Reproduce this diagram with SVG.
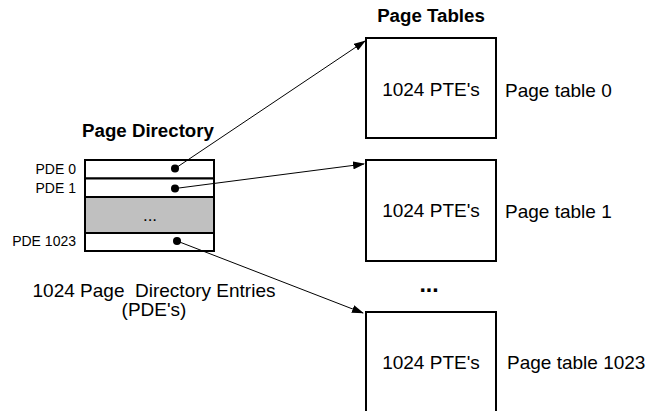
<svg xmlns="http://www.w3.org/2000/svg" width="646" height="411" viewBox="0 0 646 411">
<style>
text{font-family:"Liberation Sans",Arial,sans-serif;fill:#000;white-space:pre}
.b{font-weight:bold;font-size:18.7px}
.r{font-size:19px}
.s{font-size:14px}
.box{fill:#fff;stroke:#000;stroke-width:2}
.conn{stroke:#000;stroke-width:1;fill:none}
</style>
<defs>
<marker id="ah" markerWidth="12" markerHeight="8" refX="11" refY="4" orient="auto" markerUnits="userSpaceOnUse">
<path d="M0,0 L12,4 L0,8 Z" fill="#000"/>
</marker>
</defs>
<g id="page-directory">
<text class="b" x="148" y="137" text-anchor="middle">Page Directory</text>
<rect class="box" x="85" y="160" width="129" height="18.5"/>
<rect class="box" x="85" y="178.5" width="129" height="18.5"/>
<rect x="85" y="197" width="129" height="36" fill="#c0c0c0" stroke="#000" stroke-width="2"/>
<rect class="box" x="85" y="233" width="129" height="18"/>
<text x="150" y="221" text-anchor="middle" style="font-size:17px">...</text>
<text class="s" x="76" y="174" text-anchor="end">PDE 0</text>
<text class="s" x="76" y="193" text-anchor="end">PDE 1</text>
<text class="s" x="76" y="246" text-anchor="end">PDE 1023</text>
<circle cx="175" cy="168.5" r="4"/>
<circle cx="175" cy="188.5" r="4"/>
<circle cx="177" cy="241" r="4"/>
<text class="r" x="154" y="297" text-anchor="middle" xml:space="preserve">1024 Page  Directory Entries</text>
<text class="r" x="154" y="316" text-anchor="middle">(PDE's)</text>
</g>
<g id="page-tables-title">
<text class="b" x="431" y="22" text-anchor="middle">Page Tables</text>
</g>
<g id="page-table-0">
<rect class="box" x="366" y="38" width="130" height="100"/>
<text class="r" x="431" y="96" text-anchor="middle">1024 PTE's</text>
<text class="r" x="505" y="97">Page table 0</text>
</g>
<g id="page-table-1">
<rect class="box" x="366" y="160" width="130" height="101"/>
<text class="r" x="431" y="217" text-anchor="middle">1024 PTE's</text>
<text class="r" x="505" y="218">Page table 1</text>
</g>
<g id="ellipsis">
<text class="b" x="429" y="292" text-anchor="middle" style="font-size:23px">...</text>
</g>
<g id="page-table-1023">
<path d="M366,412 V312 H496 V412" class="box"/>
<text class="r" x="431" y="369" text-anchor="middle">1024 PTE's</text>
<text class="r" x="507" y="369">Page table 1023</text>
</g>
<g id="connectors">
<line class="conn" x1="175" y1="168.5" x2="365" y2="41" marker-end="url(#ah)"/>
<line class="conn" x1="175" y1="188.5" x2="364" y2="164" marker-end="url(#ah)"/>
<line class="conn" x1="177" y1="241" x2="363" y2="313" marker-end="url(#ah)"/>
</g>
</svg>
